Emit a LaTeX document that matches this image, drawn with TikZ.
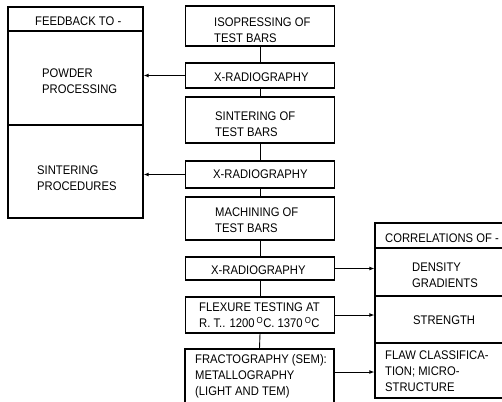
\documentclass[tikz,border=0pt]{standalone}
\usepackage{fontspec}
\setmainfont[FakeStretch=0.9]{Liberation Sans}
\usetikzlibrary{arrows.meta}
\begin{document}
\begin{tikzpicture}[x=1pt,y=-1pt,
  box/.style={draw, line width=1.3pt, inner sep=0pt},
  cbox/.style={box, minimum width=149},
  lbox/.style={box, minimum width=135},
  txt/.style={anchor=west, align=left, inner sep=0pt, font=\fontsize{12.5}{16}\selectfont},
  conn/.style={line width=0.9pt},
  arr/.style={conn, -{Latex[length=5pt,width=4pt]}}]
\useasboundingbox (0,0) rectangle (502,401);
\clip (0,0) rectangle (502,401);
% left feedback box
\node[lbox, minimum height=24] (fbh) at (75.5,19) {};
\node[lbox, minimum height=94] (pp) at (75.5,78) {};
\node[lbox, minimum height=93] (sp) at (75.5,171.5) {};
% centre column
\node[cbox, minimum height=40] (iso) at (260,26) {};
\node[cbox, minimum height=25] (xr1) at (260,75.5) {};
\node[cbox, minimum height=46] (sint) at (260,120) {};
\node[cbox, minimum height=27] (xr2) at (260,174.5) {};
\node[cbox, minimum height=43] (mach) at (260,218.5) {};
\node[cbox, minimum height=23] (xr3) at (260,268.5) {};
\node[cbox, minimum height=36] (flex) at (260,315) {};
\node[cbox, minimum height=71] (frac) at (259.5,384.5) {};
% right correlations box
\node[lbox, minimum height=25] (ch) at (442.5,235.5) {};
\node[lbox, minimum height=48] (dg) at (442.5,272) {};
\node[lbox, minimum height=47] (st) at (442.5,319.5) {};
\node[lbox, minimum height=55] (fc) at (442.5,370.5) {};
% texts
\node[txt] (tfbh) at (35,21) {FEEDBACK TO -};
\node[txt] (tpp) at (42,81.5) {POWDER\\PROCESSING};
\node[txt] (tsp) at (37,178.5) {SINTERING\\PROCEDURES};
\node[txt] (tiso) at (214,30) {ISOPRESSING OF\\TEST BARS};
\node[txt] (txr1) at (214,77.5) {X-RADIOGRAPHY};
\node[txt] (tsint) at (215,124.5) {SINTERING OF\\TEST BARS};
\node[txt] (txr2) at (213,174) {X-RADIOGRAPHY};
\node[txt] (tmach) at (215,220.5) {MACHINING OF\\TEST BARS};
\node[txt] (txr3) at (211,270.5) {X-RADIOGRAPHY};
\node[txt] (tflex) at (199,315.5) {FLEXURE TESTING AT\\R. T.. 1200\,\textsuperscript{O}C. 1370\,\textsuperscript{O}C};
\node[txt] (tfrac) at (195,376) {FRACTOGRAPHY (SEM):\\METALLOGRAPHY\\(LIGHT AND TEM)};
\node[txt] (tch) at (385,238) {CORRELATIONS OF -};
\node[txt] (tdg) at (412,275) {DENSITY\\GRADIENTS};
\node[txt] (tst) at (413,320) {STRENGTH};
\node[txt] (tfc) at (385,371) {FLAW CLASSIFICA-\\TION; MICRO-\\STRUCTURE};
% vertical connectors
\draw[conn] (iso.south) -- (xr1.north);
\draw[conn] (xr1.south) -- (sint.north);
\draw[conn] (sint.south) -- (xr2.north);
\draw[conn] (xr2.south) -- (mach.north);
\draw[conn] (mach.south) -- (xr3.north);
\draw[conn] (xr3.south) -- (flex.north);
\draw[conn] (flex.south) -- (frac.north);
% feedback arrows
\draw[arr] (xr1.west) -- (xr1.west -| pp.east);
\draw[arr] (xr2.west) -- (xr2.west -| sp.east);
% correlation arrows
\coordinate (fracout) at (frac.east |- 0,372);
\draw[arr] (xr3.east) -- (xr3.east -| dg.west);
\draw[arr] (flex.east) -- (flex.east -| st.west);
\draw[arr] (fracout) -- (fracout -| fc.west);
\end{tikzpicture}
\end{document}
